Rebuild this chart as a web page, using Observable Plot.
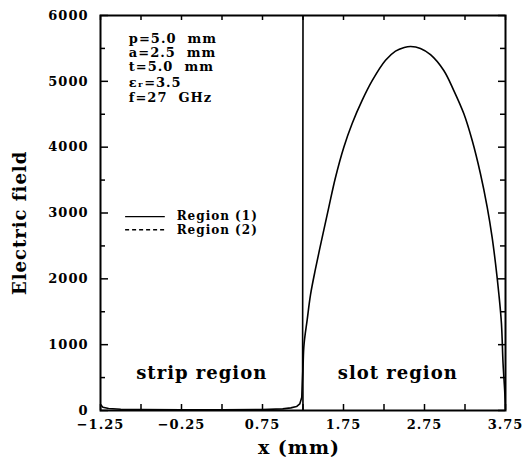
<!DOCTYPE html>
<html>
<head>
<meta charset="utf-8">
<script src="https://cdn.jsdelivr.net/npm/d3@7"></script>
<script src="https://cdn.jsdelivr.net/npm/@observablehq/plot@0.6"></script>
<style>
  html, body { margin: 0; padding: 0; background: #fff; }
  svg text { letter-spacing: 1px; }
</style>
</head>
<body>
<div id="chart"></div>
<script>
// Strip region field (Region 1): near zero, diverging at the strip edge x = 1.25 mm
const stripX = [-1.25, -1.22, -1.15, -1.0, -0.75, -0.25, 0.25, 0.75, 1.0, 1.1, 1.17, 1.21, 1.235, 1.245, 1.25];
const stripE = [90, 50, 30, 20, 15, 10, 10, 15, 25, 40, 60, 100, 200, 600, 6000];

// Slot region field
const slotX = [1.25, 1.26, 1.302, 1.343, 1.404, 1.487, 1.569, 1.651, 1.754, 1.857, 1.98, 2.104, 2.269, 2.392, 2.50, 2.58, 2.70, 2.824, 2.988, 3.112, 3.235, 3.339, 3.44, 3.524, 3.585, 3.627, 3.668, 3.70, 3.72, 3.74, 3.75];
const slotE = [0, 960, 1380, 1760, 2150, 2630, 3090, 3540, 4000, 4360, 4710, 5010, 5320, 5460, 5515, 5530, 5500, 5405, 5165, 4860, 4510, 4100, 3600, 3090, 2630, 2230, 1770, 1320, 710, 300, 0];

// Axis ticks
const xMinorTicks = [-1.25, -0.75, -0.25, 0.25, 0.75, 1.25, 1.75, 2.25, 2.75, 3.25, 3.75];
const xTickLabels = [-1.25, -0.25, 0.75, 1.75, 2.75, 3.75];
const yMinorTicks = [500, 1500, 2500, 3500, 4500, 5500];
const yTickLabels = [0, 1000, 2000, 3000, 4000, 5000, 6000];

// Annotations
const paramLines = ["p=5.0  mm", "a=2.5  mm", "t=5.0  mm", "\u03b5\u1d63=3.5", "f=27  GHz"];
const paramY = [5650, 5430, 5215, 4975, 4750];
const regionLabels = ["strip region", "slot region"];
const regionLabelX = [0.0, 2.42];
const legendLabels = ["Region (1)", "Region (2)"];
const legendY = [2945, 2745];

const strip = stripX.map((x, i) => ({x, e: stripE[i]}));
const slot = slotX.map((x, i) => ({x, e: slotE[i]}));
const params = paramLines.map((t, i) => ({t, y: paramY[i]}));
const regions = regionLabels.map((t, i) => ({t, x: regionLabelX[i]}));
const legend = legendLabels.map((t, i) => ({t, y: legendY[i]}));

const W = 530, H = 464, ML = 100, MR = 25, MT = 15, MB = 54;
const FW = W - ML - MR, FH = H - MT - MB;
const X0 = -1.25, X1 = 3.75, Y0 = 0, Y1 = 6000;
// convert a pixel tick length into data units
const px2x = p => p * (X1 - X0) / FW;
const px2y = p => p * (Y1 - Y0) / FH;
const fmtX = d => d.toFixed(2).replace("-", "\u2212");
const tk = {stroke: "#000", strokeWidth: 1.5};

const chart = Plot.plot({
  width: W,
  height: H,
  marginLeft: ML,
  marginRight: MR,
  marginTop: MT,
  marginBottom: MB,
  style: {fontFamily: "'DejaVu Serif', serif", fontWeight: "bold", background: "#fff", color: "#000"},
  x: {domain: [X0, X1], axis: null},
  y: {domain: [Y0, Y1], axis: null},
  marks: [
    // inward ticks
    Plot.ruleX(xMinorTicks, {x: d => d, y1: Y0, y2: Y0 + px2y(6), ...tk}),
    Plot.ruleX(xMinorTicks, {x: d => d, y1: Y1, y2: Y1 - px2y(5), ...tk}),
    Plot.ruleY(yMinorTicks, {y: d => d, x1: X0, x2: X0 + px2x(5), ...tk}),
    Plot.ruleY(yTickLabels, {y: d => d, x1: X0, x2: X0 + px2x(8), ...tk}),
    Plot.ruleY(yMinorTicks, {y: d => d, x1: X1, x2: X1 - px2x(5), ...tk}),
    Plot.ruleY(yTickLabels, {y: d => d, x1: X1, x2: X1 - px2x(7), ...tk}),
    // tick labels
    Plot.axisX({ticks: xTickLabels, anchor: "bottom", tickSize: 0, tickPadding: 9, tickFormat: fmtX, label: null, fontSize: 13}),
    Plot.axisY({ticks: yTickLabels, anchor: "left", tickSize: 0, tickPadding: 12, tickFormat: d => String(d), label: null, fontSize: 13}),
    Plot.frame({stroke: "#000", strokeWidth: 2}),
    // data
    Plot.line(strip, {x: "x", y: "e", stroke: "#000", strokeWidth: 1.6, clip: true}),
    Plot.line(slot, {x: "x", y: "e", stroke: "#000", strokeWidth: 1.6, curve: "catmull-rom", clip: true}),
    // parameter annotations
    Plot.text(params, {x: -0.9, y: "y", text: "t", textAnchor: "start", fontSize: 13, fill: "#000", style: "letter-spacing:1.5px"}),
    // region labels
    Plot.text(regions, {x: "x", y: 560, text: "t", fontSize: 18, fill: "#000"}),
    // legend
    Plot.ruleY(legend.slice(0, 1), {x1: -0.94, x2: -0.45, y: "y", stroke: "#000", strokeWidth: 1.4}),
    Plot.ruleY(legend.slice(1, 2), {x1: -0.94, x2: -0.45, y: "y", stroke: "#000", strokeWidth: 1.4, strokeDasharray: "4,3"}),
    Plot.text(legend, {x: -0.31, y: "y", text: "t", textAnchor: "start", fontSize: 12, fill: "#000"}),
    // axis titles
    Plot.text(["Electric field"], {x: X0, y: 2850, dx: -80, rotate: -90, fontSize: 18, fill: "#000"}),
    Plot.text(["x (mm)"], {x: 1.2, y: Y0, dy: 37, fontSize: 19, fill: "#000"})
  ]
});
document.getElementById("chart").appendChild(chart);
</script>
</body>
</html>
